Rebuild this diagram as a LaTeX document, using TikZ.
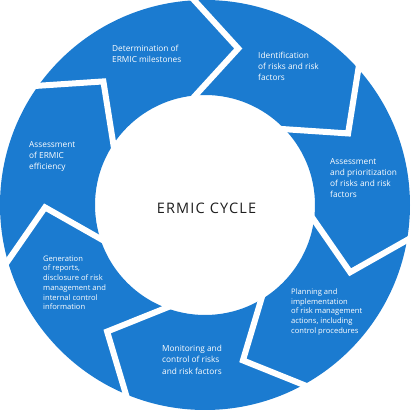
\documentclass[tikz,border=0pt]{standalone}
\usepackage{fontspec}
\setmainfont{Open Sans}
\newfontfamily\titlefont[LetterSpace=8]{Open Sans}
\definecolor{ringblue}{HTML}{1B7BD0}
\definecolor{titlegray}{HTML}{1E1E1E}
\begin{document}
\begin{tikzpicture}[x=1pt,y=1pt,
  lbl/.style={anchor=north west, inner sep=0pt, align=left, text=white, font=\fontsize{8.3}{11}\selectfont},
  lblsmall/.style={lbl, font=\fontsize{7.6}{9.7}\selectfont},
  gapline/.style={white, line width=6pt, line join=miter, miter limit=20, shorten <=-8pt, shorten >=-8pt}]
\useasboundingbox (-205,-205) rectangle (205,205);
\fill[ringblue, even odd rule] (0,0) circle (205) (0,0) circle (110);
\foreach \k in {0,...,6} {
  \pgfmathsetmacro\t{93-51.4286*\k}
  \draw[gapline] (\t:205) -- (\t-15:160) -- (\t+2:110);
}
\node[font=\titlefont\fontsize{14.5}{16}\selectfont, text=titlegray] (title) at (1.5,-3.5) {ERMIC CYCLE};
\node[lbl] (s1) at (-93,160.5) {Determination of\\ERMIC milestones};
\node[lbl] (s2) at (53,153.5) {Identification\\of risks and risk\\factors};
\node[lbl] (s3) at (125,46.5) {Assessment\\and prioritization\\of risks and risk\\factors};
\node[lblsmall] (s4) at (86,-83.5) {Planning and\\implementation\\of risk management\\actions, including\\control procedures};
\node[lbl, font=\fontsize{8.3}{11.5}\selectfont] (s5) at (-43,-139.5) {Monitoring and\\control of risks\\and risk factors};
\node[lblsmall] (s6) at (-162,-50.5) {Generation\\of reports,\\disclosure of risk\\management and\\internal control\\information};
\node[lbl] (s7) at (-176,63.5) {Assessment\\of ERMIC\\efficiency};
\end{tikzpicture}
\end{document}
